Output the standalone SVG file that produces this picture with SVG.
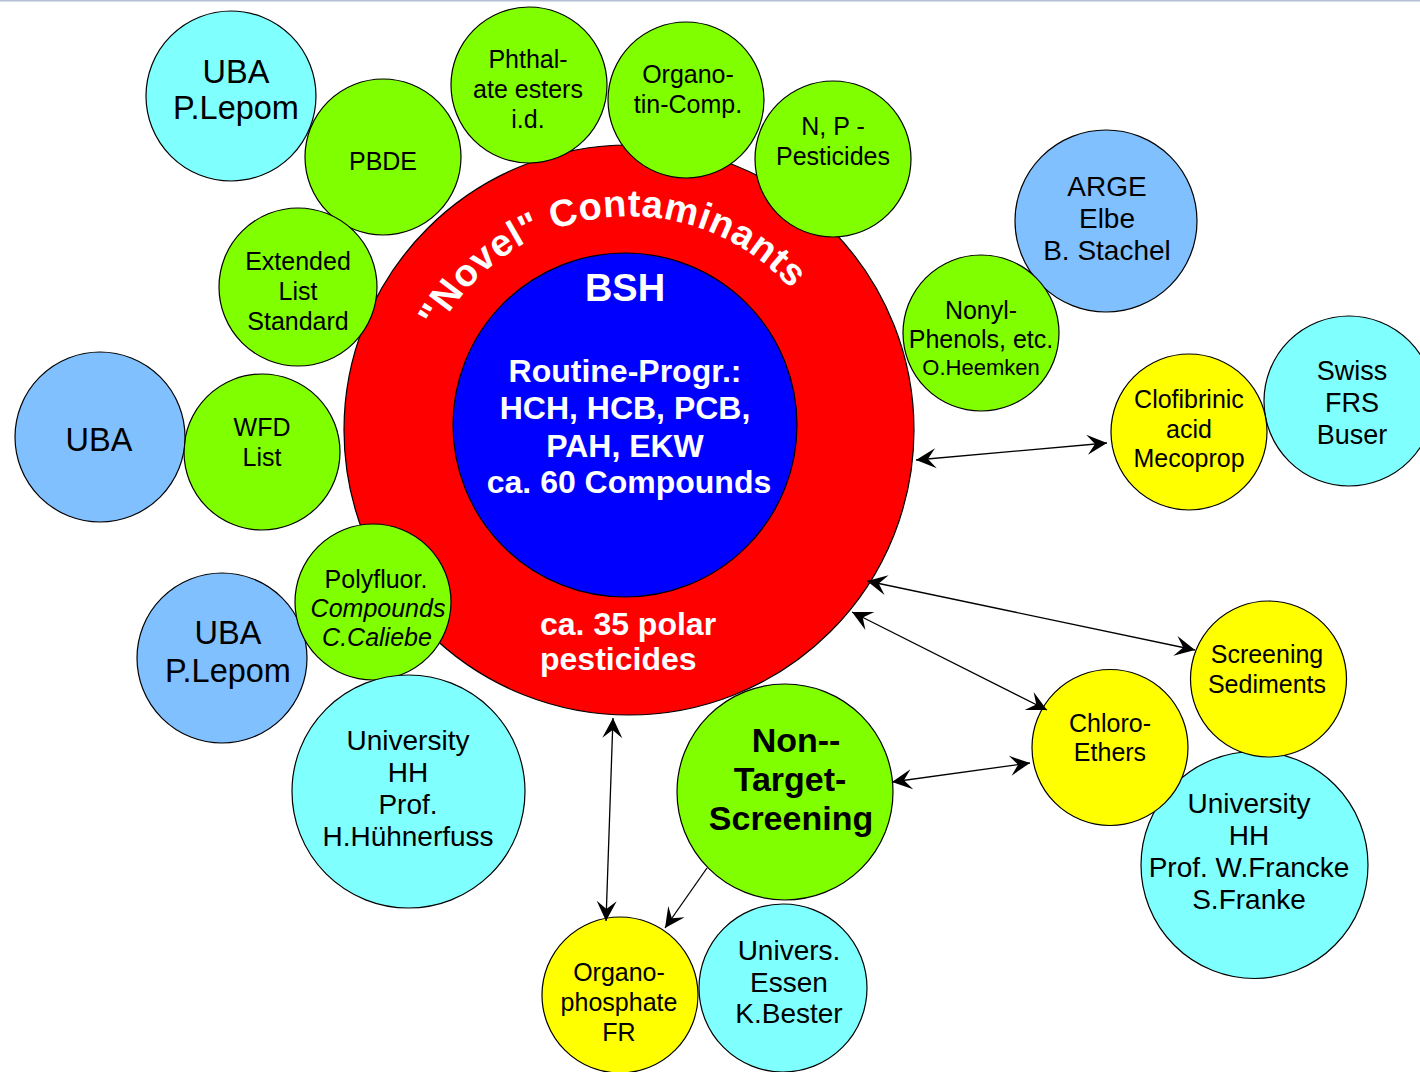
<svg xmlns="http://www.w3.org/2000/svg" width="1420" height="1072" viewBox="0 0 1420 1072">
  <style>
    .c { stroke: #000; stroke-width: 1.2; }
    .green { fill: #80ff00; }
    .cyan { fill: #80ffff; }
    .sky { fill: #80c0ff; }
    .yellow { fill: #ffff00; }
    text { font-family: "Liberation Sans", Arial, Helvetica, sans-serif; text-anchor: middle; fill: #000; }
    .t25 { font-size: 25px; }
    .t27 { font-size: 27px; }
    .t28 { font-size: 28px; }
    .t32 { font-size: 32.5px; }
    .core { font-weight: bold; fill: #fff; }
    .conn { stroke: #000; stroke-width: 1.3; fill: none; }
  </style>
  <defs>
    <marker id="head" viewBox="-22 -11 24 22" refX="0" refY="0" markerWidth="24" markerHeight="22" markerUnits="userSpaceOnUse" orient="auto-start-reverse">
      <path d="M0,0 L-20,-10 L-12,0 L-20,10 Z" fill="#000"/>
    </marker>
    <path id="arcNovel" d="M414.4,454.5 A216,216 0 0 1 843.6,405.6"/>
  </defs>

  <rect x="0" y="0" width="1420" height="1072" fill="#fff"/>
  <rect x="0" y="0" width="1420" height="1.5" fill="#b4c0d6"/>

  <!-- central rings -->
  <g id="novel-contaminants">
    <circle cx="629" cy="430" r="285" fill="#ff0000" class="c"/>
    <text class="core" font-size="38" letter-spacing="0.6"><textPath href="#arcNovel" startOffset="50%">"Novel" Contaminants</textPath></text>
    <text class="core" font-size="32" x="540" y="635" style="text-anchor:start" fill="#f2f2f2">ca. 35 polar</text>
    <text class="core" font-size="32" x="540" y="670" style="text-anchor:start" fill="#f2f2f2">pesticides</text>
  </g>
  <g id="bsh">
    <circle cx="625" cy="425" r="172" fill="#0000ff" class="c"/>
    <text class="core" font-size="38" x="625" y="301">BSH</text>
    <text class="core" font-size="32" x="625" y="382">Routine-Progr.:</text>
    <text class="core" font-size="32" x="625" y="419">HCH, HCB, PCB,</text>
    <text class="core" font-size="32" x="625" y="457">PAH, EKW</text>
    <text class="core" font-size="32" x="629" y="493">ca. 60 Compounds</text>
  </g>

  <!-- outer nodes -->
  <g id="uba-lepom-top">
    <circle cx="231" cy="96" r="85" class="c cyan"/>
    <text class="t32" x="236" y="83">UBA</text>
    <text class="t32" x="236" y="119">P.Lepom</text>
  </g>
  <g id="pbde">
    <circle cx="383" cy="157" r="78" class="c green"/>
    <text class="t25" x="383" y="170">PBDE</text>
  </g>
  <g id="phthalate">
    <circle cx="529" cy="85" r="78" class="c green"/>
    <text class="t25" x="528" y="68">Phthal-</text>
    <text class="t25" x="528" y="98">ate esters</text>
    <text class="t25" x="528" y="128">i.d.</text>
  </g>
  <g id="organotin">
    <circle cx="686" cy="100" r="78" class="c green"/>
    <text class="t25" x="688" y="83">Organo-</text>
    <text class="t25" x="688" y="113">tin-Comp.</text>
  </g>
  <g id="np-pesticides">
    <circle cx="833" cy="159" r="78" class="c green"/>
    <text class="t25" x="833" y="135">N, P -</text>
    <text class="t25" x="833" y="165">Pesticides</text>
  </g>
  <g id="extended-list">
    <circle cx="298" cy="287" r="79" class="c green"/>
    <text class="t25" x="298" y="270">Extended</text>
    <text class="t25" x="298" y="300">List</text>
    <text class="t25" x="298" y="330">Standard</text>
  </g>
  <g id="wfd-list">
    <circle cx="262" cy="452" r="78" class="c green"/>
    <text class="t25" x="262" y="436">WFD</text>
    <text class="t25" x="262" y="466">List</text>
  </g>
  <g id="uba-left">
    <circle cx="100" cy="437" r="85" class="c sky"/>
    <text class="t32" x="99" y="451">UBA</text>
  </g>
  <g id="uba-lepom-left">
    <circle cx="222" cy="658" r="85" class="c sky"/>
    <text class="t32" x="228" y="644">UBA</text>
    <text class="t32" x="228" y="682">P.Lepom</text>
  </g>
  <g id="polyfluor">
    <circle cx="373" cy="602" r="78" class="c green"/>
    <text class="t25" x="376" y="588">Polyfluor.</text>
    <text class="t25" x="378" y="617" font-style="italic">Compounds</text>
    <text class="t25" x="377" y="646" font-style="italic">C.Caliebe</text>
  </g>
  <g id="univ-hh-huehnerfuss">
    <circle cx="408.5" cy="791.5" r="116.5" class="c cyan"/>
    <text class="t28" x="408" y="750">University</text>
    <text class="t28" x="408" y="782">HH</text>
    <text class="t28" x="408" y="814">Prof.</text>
    <text class="t28" x="408" y="846">H.Hühnerfuss</text>
  </g>
  <g id="non-target-screening">
    <circle cx="785" cy="792" r="108" class="c green"/>
    <text font-size="34" font-weight="bold" x="796" y="752">Non--</text>
    <text font-size="34" font-weight="bold" x="790" y="791">Target-</text>
    <text font-size="34" font-weight="bold" x="791" y="830">Screening</text>
  </g>
  <g id="univ-essen">
    <circle cx="783" cy="988" r="84" class="c cyan"/>
    <text class="t28" x="789" y="960">Univers.</text>
    <text class="t28" x="789" y="992">Essen</text>
    <text class="t28" x="789" y="1023">K.Bester</text>
  </g>
  <g id="organophosphate">
    <circle cx="620" cy="995" r="78" class="c yellow"/>
    <text class="t25" x="619" y="981">Organo-</text>
    <text class="t25" x="619" y="1011">phosphate</text>
    <text class="t25" x="619" y="1041">FR</text>
  </g>
  <g id="univ-hh-francke">
    <circle cx="1254.5" cy="865" r="113.5" class="c cyan"/>
    <text class="t28" x="1249" y="813">University</text>
    <text class="t28" x="1249" y="845">HH</text>
    <text class="t28" x="1249" y="877">Prof. W.Francke</text>
    <text class="t28" x="1249" y="909">S.Franke</text>
  </g>
  <g id="chloro-ethers">
    <circle cx="1110" cy="747.5" r="78" class="c yellow"/>
    <text class="t25" x="1110" y="732">Chloro-</text>
    <text class="t25" x="1110" y="761">Ethers</text>
  </g>
  <g id="screening-sediments">
    <circle cx="1268.5" cy="679" r="78" class="c yellow"/>
    <text class="t25" x="1267" y="663">Screening</text>
    <text class="t25" x="1267" y="693">Sediments</text>
  </g>
  <g id="swiss-frs">
    <circle cx="1349" cy="401" r="85" class="c cyan"/>
    <text class="t27" x="1352" y="380">Swiss</text>
    <text class="t27" x="1352" y="412">FRS</text>
    <text class="t27" x="1352" y="444">Buser</text>
  </g>
  <g id="clofibrinic">
    <circle cx="1189" cy="432" r="78" class="c yellow"/>
    <text class="t25" x="1189" y="408">Clofibrinic</text>
    <text class="t25" x="1189" y="438">acid</text>
    <text class="t25" x="1189" y="467">Mecoprop</text>
  </g>
  <g id="arge-elbe">
    <circle cx="1106" cy="221" r="91" class="c sky"/>
    <text class="t28" x="1107" y="196">ARGE</text>
    <text class="t28" x="1107" y="228">Elbe</text>
    <text class="t28" x="1107" y="260">B. Stachel</text>
  </g>
  <g id="nonylphenols">
    <circle cx="981" cy="333" r="78" class="c green"/>
    <text class="t25" x="981" y="319">Nonyl-</text>
    <text class="t25" x="981" y="348">Phenols, etc.</text>
    <text font-size="22" x="981" y="375">O.Heemken</text>
  </g>

  <!-- connectors -->
  <g id="connectors">
    <line class="conn" x1="916" y1="460" x2="1107" y2="443" marker-start="url(#head)" marker-end="url(#head)"/>
    <line class="conn" x1="867" y1="581" x2="1195" y2="650" marker-start="url(#head)" marker-end="url(#head)"/>
    <line class="conn" x1="852" y1="612" x2="1047" y2="710" marker-start="url(#head)" marker-end="url(#head)"/>
    <line class="conn" x1="892" y1="782" x2="1030" y2="763" marker-start="url(#head)" marker-end="url(#head)"/>
    <line class="conn" x1="613" y1="718" x2="606" y2="921" marker-start="url(#head)" marker-end="url(#head)"/>
    <line class="conn" x1="707" y1="868" x2="665" y2="928" stroke-width="2.8" marker-end="url(#head)"/>
  </g>
</svg>
